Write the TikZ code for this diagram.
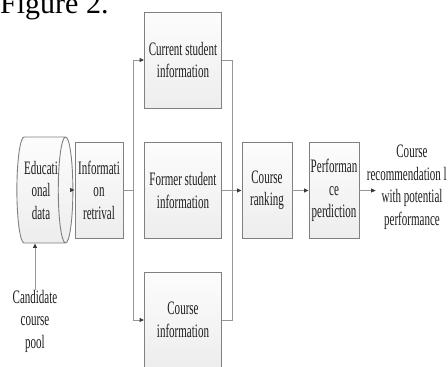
\documentclass[tikz,border=0pt]{standalone}
\usepackage{fontspec}
\setmainfont{Liberation Serif}[FakeStretch=0.58]
\newfontfamily\figfont{Liberation Serif}
\definecolor{boxline}{RGB}{128,128,128}
\definecolor{wireline}{RGB}{150,150,150}
\definecolor{tipgray}{RGB}{60,60,60}
\definecolor{txtgray}{RGB}{30,30,30}
\usetikzlibrary{arrows.meta,positioning,shapes.geometric,calc}

\begin{document}
\begin{tikzpicture}[x=1pt, y=-1pt, font=\fontsize{19}{22.5}\selectfont, text=txtgray]
    \tikzset{stepbox/.style={rectangle, draw=boxline, line width=0.9pt, align=center,
      minimum width=77pt, minimum height=96pt, inner sep=1pt,
      top color=gray!2, bottom color=gray!14}}
    \tikzset{smallbox/.style={stepbox, minimum width=50pt}}
    \tikzset{wire/.style={draw=wireline, line width=0.9pt}}
    \tikzset{arr/.style={wire, -{Triangle[length=4.5pt, width=4pt, color=tipgray]}}}

    \useasboundingbox (0,0) rectangle (448,367);
    \clip (0,0) rectangle (448,367);

    % Caption (cut at top)
    \node[font=\figfont\fontsize{30}{30}\selectfont, anchor=base west, inner sep=0pt, text=black]
      (fig) at (0,13) {Figure 2.};

    % Left: data source and retrieval
    \node[cylinder, shape border rotate=0, aspect=0.25, draw=boxline, line width=0.9pt,
          minimum height=52pt, minimum width=106pt, inner sep=0pt, align=center,
          top color=gray!2, bottom color=gray!14] (edu) at (41,190) {Educati\\onal\\data};
    \node[stepbox, minimum width=48pt] (ret) at (99,190) {Informati\\on\\retrival};
    \node[align=center, inner sep=0pt] (cand) at (35,321) {Candidate\\course\\pool};

    % Middle column
    \node[stepbox] (cur)   at (183,60)    {Current student\\information};
    \node[stepbox] (form)  at (183,190.5) {Former student\\information};
    \node[stepbox] (cinfo) at (183,320)   {Course\\information};

    % Right: ranking and prediction
    \node[smallbox] (rank) at (267,190.5) {Course\\ranking};
    \node[smallbox] (perf) at (334,190.5) {Performan\\ce\\perdiction};
    \node[align=center, inner sep=0pt] (recomm) at (412,187)
      {Course\\recommendation l\phantom{ist}\\with potential\\performance};

    % Split and join points
    \coordinate (split) at (133,190);
    \coordinate (join)  at (232,190);

    \draw[arr] (cand.north) -- (cand.north |- edu.south);
    \draw[arr] (edu.east) -- (ret.west);
    \draw[wire] (ret.east) -- (split);
    \foreach \b in {cur, cinfo}{
      \draw[arr] (split) |- (\b.west);
      \draw[wire] (\b.east) -| (join);
    }
    \draw[arr] (form.east) -- (rank.west);
    \draw[arr] (rank.east) -- (perf.west);
    \draw[arr, shorten >=-9pt] (perf.east) -- (recomm.west |- perf.east);
\end{tikzpicture}
\end{document}
